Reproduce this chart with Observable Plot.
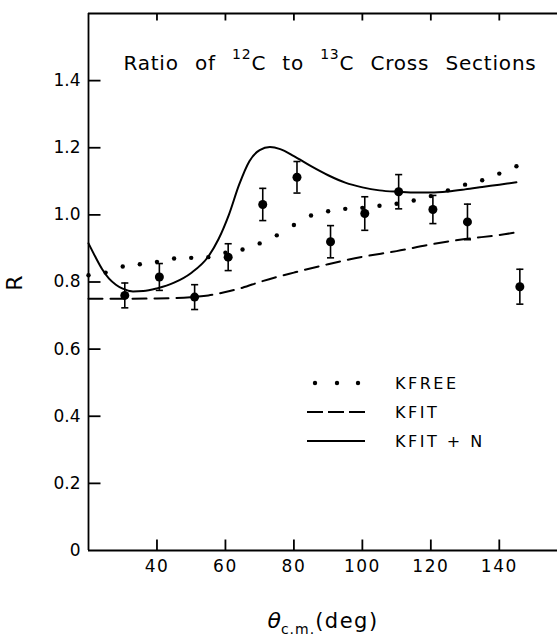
<!DOCTYPE html>
<html><head><meta charset="utf-8">
<script src="https://cdn.jsdelivr.net/npm/d3@7"></script>
<script src="https://cdn.jsdelivr.net/npm/@observablehq/plot@0.6"></script>
<style>html,body{margin:0;padding:0;background:#fff;}</style>
</head><body><div id="chart"></div>
<script>
// Measured data points (theta c.m. in degrees, ratio R, half error bar)
const pointAngles = [30.6, 40.7, 51.0, 60.8, 70.9, 80.9, 90.7, 100.7, 110.6, 120.6, 130.7, 146.0];
const pointRatios = [0.760, 0.815, 0.755, 0.874, 1.031, 1.112, 0.920, 1.004, 1.069, 1.016, 0.979, 0.786];
const pointErrors = [0.037, 0.040, 0.037, 0.040, 0.048, 0.047, 0.048, 0.050, 0.051, 0.042, 0.053, 0.052];

// KFREE (dotted)
const kfreeAngles = [20, 25, 30, 35, 40, 45, 50, 55, 60, 65, 70, 75, 80, 85, 90, 95, 100, 105, 110, 115, 120, 125, 130, 135, 140, 145];
const kfreeRatios = [0.820, 0.828, 0.846, 0.853, 0.860, 0.870, 0.872, 0.874, 0.887, 0.897, 0.915, 0.939, 0.970, 0.998, 1.011, 1.018, 1.021, 1.027, 1.033, 1.043, 1.056, 1.073, 1.090, 1.103, 1.123, 1.145];

// KFIT (dashed)
const kfitAngles = [20, 30, 40, 50, 55, 60, 65, 70, 75, 80, 90, 100, 110, 120, 130, 140, 145];
const kfitRatios = [0.750, 0.750, 0.751, 0.755, 0.760, 0.770, 0.783, 0.800, 0.815, 0.828, 0.853, 0.875, 0.892, 0.912, 0.928, 0.940, 0.948];

// KFIT + N (solid)
const kfitnAngles = [20, 22, 24, 26, 28, 30, 33, 36, 40, 45, 50, 55, 58, 61, 64, 67, 70, 73, 76, 80, 85, 90, 95, 100, 105, 110, 115, 120, 125, 130, 135, 140, 145];
const kfitnRatios = [0.915, 0.875, 0.838, 0.810, 0.792, 0.780, 0.772, 0.773, 0.781, 0.798, 0.827, 0.876, 0.928, 1.000, 1.090, 1.160, 1.193, 1.202, 1.196, 1.175, 1.145, 1.118, 1.096, 1.082, 1.073, 1.069, 1.067, 1.067, 1.070, 1.076, 1.083, 1.090, 1.097];

const xTicks = [40, 60, 80, 100, 120, 140];
const yTicks = [0, 0.2, 0.4, 0.6, 0.8, 1.0, 1.2, 1.4];
const legendLabels = ["KFREE", "KFIT", "KFIT + N"];

const points = pointAngles.map((x, i) => ({x, y: pointRatios[i], e: pointErrors[i]}));
const kfree = kfreeAngles.map((x, i) => ({x, y: kfreeRatios[i]}));
const kfit = kfitAngles.map((x, i) => ({x, y: kfitRatios[i]}));
const kfitn = kfitnAngles.map((x, i) => ({x, y: kfitnRatios[i]}));

const W = 557, H = 641, ML = 88, MR = 0, MT = 13, MB = 91;
const X0 = 20, X1 = 157, Y0 = 0, Y1 = 1.6;

// Custom stroke-only symbols (caps and inward ticks)
const capSymbol = {draw(ctx, size) { const w = Math.sqrt(size) / 2; ctx.moveTo(-w, 0); ctx.lineTo(w, 0); }};
const tickUp = {draw(ctx) { ctx.moveTo(0, 0); ctx.lineTo(0, -11); }};
const tickDown = {draw(ctx) { ctx.moveTo(0, 0); ctx.lineTo(0, 7); }};
const tickRight = {draw(ctx) { ctx.moveTo(0, 0); ctx.lineTo(12, 0); }};

const chart = Plot.plot({
  width: W, height: H,
  marginLeft: ML, marginRight: MR, marginTop: MT, marginBottom: MB,
  style: {fontFamily: "DejaVu Sans", fontSize: "17px", background: "white"},
  x: {domain: [X0, X1], label: null},
  y: {domain: [Y0, Y1], label: null},
  marks: [
    Plot.axisX(xTicks, {tickSize: 0, tickPadding: 9, fontSize: 17, label: null}),
    Plot.axisY(yTicks, {tickSize: 0, tickPadding: 8, fontSize: 17, label: null,
      tickFormat: d => d === 0 ? "0" : d.toFixed(1)}),
    Plot.ruleX([X0], {stroke: "black", strokeWidth: 1.8}),
    Plot.ruleY([Y0], {stroke: "black", strokeWidth: 1.8}),
    Plot.ruleY([Y1], {stroke: "black", strokeWidth: 1.8}),
    Plot.dot(xTicks, {x: d => d, y: Y0, symbol: tickUp, r: 4, stroke: "black", strokeWidth: 1.8, fill: "none"}),
    Plot.dot(xTicks, {x: d => d, y: Y1, symbol: tickDown, r: 4, stroke: "black", strokeWidth: 1.8, fill: "none"}),
    Plot.dot(yTicks.filter(d => d > 0), {x: X0, y: d => d, symbol: tickRight, r: 4, stroke: "black", strokeWidth: 1.8, fill: "none"}),
    Plot.line(kfitn, {x: "x", y: "y", curve: "monotone-x", stroke: "black", strokeWidth: 2}),
    Plot.line(kfit, {x: "x", y: "y", curve: "monotone-x", stroke: "black", strokeWidth: 2, strokeDasharray: "14,8"}),
    Plot.dot(kfree, {x: "x", y: "y", r: 2.2, fill: "black", stroke: null}),
    Plot.ruleX(points, {x: "x", y1: d => d.y - d.e, y2: d => d.y + d.e, stroke: "black", strokeWidth: 1.6}),
    Plot.dot(points, {x: "x", y: d => d.y - d.e, r: 4, symbol: capSymbol, stroke: "black", strokeWidth: 1.6, fill: "none"}),
    Plot.dot(points, {x: "x", y: d => d.y + d.e, r: 4, symbol: capSymbol, stroke: "black", strokeWidth: 1.6, fill: "none"}),
    Plot.dot(points, {x: "x", y: "y", r: 4.5, fill: "black", stroke: null})
  ]
});
document.getElementById("chart").appendChild(chart);

const svg = d3.select(chart);
svg.selectAll('[aria-label="x-axis tick label"] text').attr("letter-spacing", 1.5);
const font = "DejaVu Sans";

// Title
const title = svg.append("text").attr("x", 330).attr("y", 70)
  .attr("text-anchor", "middle").attr("font-family", font).attr("font-size", 20)
  .attr("word-spacing", 9).attr("letter-spacing", 0.8).attr("fill", "black");
title.append("tspan").text("Ratio of ");
title.append("tspan").attr("dy", -11).attr("font-size", 14).text("12");
title.append("tspan").attr("dy", 11).text("C to ");
title.append("tspan").attr("dy", -11).attr("font-size", 14).text("13");
title.append("tspan").attr("dy", 11).text("C Cross Sections");

// Y label
svg.append("text").attr("transform", "translate(16,283) rotate(-90)")
  .attr("text-anchor", "middle").attr("dominant-baseline", "middle")
  .attr("font-family", font).attr("font-size", 22).attr("fill", "black").text("R");

// X label
const xl = svg.append("text").attr("x", 323).attr("y", 628).attr("text-anchor", "middle")
  .attr("font-family", font).attr("font-size", 21).attr("fill", "black");
xl.append("tspan").attr("font-style", "italic").attr("font-size", 22).text("θ");
xl.append("tspan").attr("dy", 6).attr("font-size", 14).attr("letter-spacing", 1).text("c.m.");
xl.append("tspan").attr("dy", -6).attr("letter-spacing", 1.5).text("(deg)");

// Legend
const lg = svg.append("g").attr("text-anchor", "start");
legendLabels.forEach((label, i) => {
  const y = 383 + i * 29;
  if (i === 0) {
    [315, 337, 358].forEach(cx => lg.append("circle").attr("cx", cx).attr("cy", y).attr("r", 2.2).attr("fill", "black"));
  } else {
    lg.append("line").attr("x1", 307).attr("x2", 365).attr("y1", y).attr("y2", y)
      .attr("stroke", "black").attr("stroke-width", 2)
      .attr("stroke-dasharray", i === 1 ? "16,5" : null);
  }
  lg.append("text").attr("x", 395).attr("y", y + 6).attr("text-anchor", "start").attr("font-family", font)
    .attr("font-size", 16).attr("letter-spacing", 2.5).attr("fill", "black").text(label);
});
</script>
</body></html>
